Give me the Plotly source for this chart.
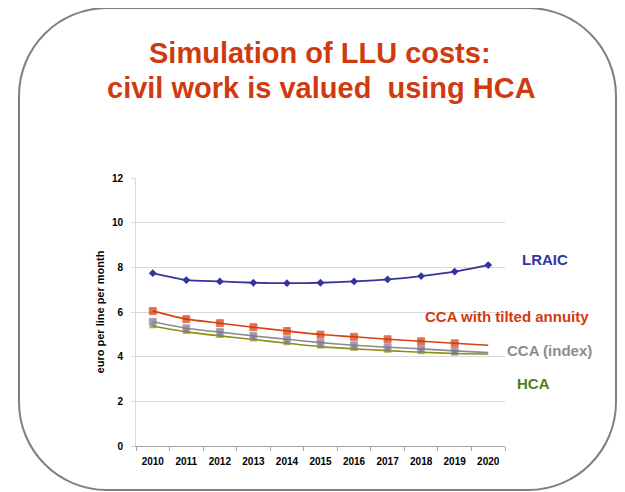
import plotly.graph_objects as go

years = ["2010", "2011", "2012", "2013", "2014", "2015", "2016", "2017", "2018", "2019", "2020"]
lraic = [7.74, 7.43, 7.37, 7.31, 7.29, 7.31, 7.37, 7.46, 7.61, 7.81, 8.10]
cca_tilted = [6.04, 5.68, 5.50, 5.32, 5.15, 4.99, 4.89, 4.78, 4.69, 4.60, 4.51]
cca_index = [5.56, 5.27, 5.10, 4.93, 4.78, 4.63, 4.51, 4.42, 4.35, 4.26, 4.18]
hca = [5.36, 5.11, 4.93, 4.77, 4.60, 4.45, 4.35, 4.27, 4.20, 4.14, 4.12]
y_ticks = [0, 2, 4, 6, 8, 10, 12]

# the page body adds an 8px offset; the figure is sized so the visible window matches
OFF = 8
W, H = 625 - OFF, 492 - OFF
L, R, T, B = 136, 505, 178, 446  # plot area in window pixels


def px(x):
    return (x - L) / (R - L)


def py(y):
    return (B - y) / (B - T)


fig = go.Figure()


def msizes(vals, size, last=True):
    s = [size] * len(vals)
    if not last:
        s[-1] = 0
    return s


fig.add_trace(go.Scatter(
    x=years, y=lraic, mode="lines+markers", name="LRAIC",
    line=dict(color="#34349c", width=1.8, shape="spline", smoothing=0.6),
    marker=dict(symbol="diamond", size=6, color="#34349c"),
))
fig.add_trace(go.Scatter(
    x=years, y=hca, mode="lines+markers", name="HCA",
    line=dict(color="#8f8f10", width=1.6, shape="spline", smoothing=0.6),
    marker=dict(symbol="triangle-up", size=msizes(hca, 6, False), color="#85851a"),
))
fig.add_trace(go.Scatter(
    x=years, y=cca_index, mode="lines+markers", name="CCA (index)",
    line=dict(color="#8c8c8c", width=1.6, shape="spline", smoothing=0.6),
    marker=dict(symbol="square", size=msizes(cca_index, 7, False), color="#7d6c9e"),
))
fig.add_trace(go.Scatter(
    x=years, y=cca_tilted, mode="lines+markers", name="CCA with tilted annuity",
    line=dict(color="#d9400f", width=1.6, shape="spline", smoothing=0.6),
    marker=dict(symbol="square", size=msizes(cca_tilted, 7, False), color="#d3330a"),
))

# Rounded rectangle frame (slide frame)
x0, x1, y0, y1, r = 19, 616, 8, 490, 88
k = 0.5523 * r
pts = [
    ("M", [(x0 + r, y0)]),
    ("L", [(x1 - r, y0)]),
    ("C", [(x1 - r + k, y0), (x1, y0 + r - k), (x1, y0 + r)]),
    ("L", [(x1, y1 - r)]),
    ("C", [(x1, y1 - r + k), (x1 - r + k, y1), (x1 - r, y1)]),
    ("L", [(x0 + r, y1)]),
    ("C", [(x0 + r - k, y1), (x0, y1 - r + k), (x0, y1 - r)]),
    ("L", [(x0, y0 + r)]),
    ("C", [(x0, y0 + r - k), (x0 + r - k, y0), (x0 + r, y0)]),
]
path = ""
for cmd, ps in pts:
    path += cmd + " " + " ".join(f"{px(a):.5f},{py(b):.5f}" for a, b in ps) + " "
path += "Z"

shapes = [
    dict(type="path", path=path, xref="paper", yref="paper",
         line=dict(color="#808080", width=2), fillcolor="rgba(0,0,0,0)", layer="above"),
    dict(type="rect", xref="paper", yref="paper", x0=px(484), x1=px(612), y0=py(363), y1=py(338),
         fillcolor="white", line=dict(width=0), layer="between"),
    dict(type="rect", xref="paper", yref="paper", x0=px(496), x1=px(600), y0=py(405), y1=py(370),
         fillcolor="white", line=dict(width=0), layer="between"),
]

FONT = "Liberation Sans, Arial"
title_color = "#cf3b0e"


def ann(text, x, y, size, color):
    return dict(text=text, x=px(x), y=py(y), xref="paper", yref="paper", showarrow=False,
                xanchor="center", yanchor="middle",
                font=dict(family=FONT, size=size, color=color))


annotations = [
    ann("<b>Simulation of LLU costs:</b>", 320, 53, 29, title_color),
    ann("<b>civil work is valued  using HCA</b>", 321, 88, 29, title_color),
    ann("<b>LRAIC</b>", 545, 259, 15, "#34349c"),
    ann("<b>CCA with tilted annuity</b>", 507, 316, 15, "#d6390c"),
    ann("<b>CCA (index)</b>", 549, 350, 15, "#8c8c8c"),
    ann("<b>HCA</b>", 533, 383, 15, "#4d7f17"),
]

fig.update_layout(
    width=W, height=H,
    margin=dict(l=L - OFF, r=W - (R - OFF), t=T - OFF, b=H - (B - OFF), pad=0),
    paper_bgcolor="white", plot_bgcolor="white",
    showlegend=False,
    shapes=shapes,
    annotations=annotations,
    font=dict(family=FONT, color="black"),
)
fig.update_xaxes(
    type="category", range=[-0.5, 10.5],
    showgrid=False, showline=True, linecolor="#a6a6a6", linewidth=1,
    ticks="outside", tickson="boundaries", ticklen=4, tickcolor="#a6a6a6",
    tickfont=dict(size=10, color="black", family=FONT),
    tickprefix="<b>", ticksuffix="</b>", ticklabelstandoff=6,
    zeroline=False,
)
fig.update_yaxes(
    range=[0, 12], tickvals=y_ticks, ticktext=[f"<b>{v}</b>" for v in y_ticks],
    showgrid=True, gridcolor="#d9d9d9", gridwidth=1,
    showline=True, linecolor="#d9d9d9", linewidth=1,
    ticks="outside", ticklen=4, tickcolor="#d9d9d9", ticklabelstandoff=6,
    tickfont=dict(size=10, color="black", family=FONT),
    title=dict(text="<b>euro per line per month</b>", standoff=5,
               font=dict(size=11, color="black", family=FONT)),
    zeroline=False,
)

fig.write_html("out.html")
